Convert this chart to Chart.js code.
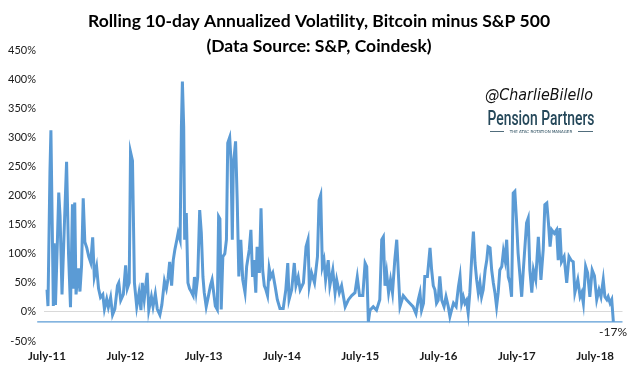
<!DOCTYPE html>
<html>
<head>
<meta charset="utf-8">
<script src="https://cdn.jsdelivr.net/npm/chart.js@4.4.0/dist/chart.umd.min.js"></script>
<style>
    html, body { margin: 0; padding: 0; background: #fff; }
</style>
</head>
<body>
<canvas id="volChart" width="635" height="373"></canvas>
<script>
// x = months after July 2011, y = BTC 10-day vol minus S&P 500 10-day vol (%)
const months = [
    0, 0.15, 0.45, 0.6, 0.8, 0.97, 1.1, 1.3, 1.6, 1.8, 2.0, 2.3, 2.65, 3.0, 3.3, 3.6, 3.9, 4.0, 4.25, 4.45,
    4.8, 5.05, 5.3, 5.55, 5.8, 6.1, 6.4, 6.7, 7.0, 7.25, 7.6, 7.9, 8.2, 8.55, 8.8, 9.15, 9.4, 9.75, 10.05, 10.4,
    10.8, 11.0, 11.3, 11.7, 12.05, 12.3, 12.6, 12.8, 13.1, 13.4, 13.75,
    14.1, 14.4, 14.6, 14.9, 15.35, 15.6, 16.0, 16.25, 16.6, 16.9, 17.3, 17.6, 18.0, 18.3, 18.55, 18.8, 19.1, 19.35, 19.6, 19.9,
    20.1, 20.4, 20.6, 20.75, 20.95, 21.1, 21.35, 21.6, 21.85, 22.1, 22.4, 22.6, 22.85, 23.1, 23.4, 23.65, 23.9, 24.1, 24.4, 24.75,
    25.05, 25.3, 25.55, 25.8, 26.1, 26.3, 26.5, 26.7, 26.95, 27.25, 27.5, 27.7, 28.0, 28.2, 28.4, 28.55, 28.9, 29.15, 29.4, 29.7,
    30.0, 30.35, 30.6, 31.0, 31.25, 31.5, 31.7, 32.0, 32.2, 32.55, 32.8, 33.05, 33.3, 33.55, 33.8, 34.05, 34.3, 34.6, 34.95, 35.3,
    35.7, 36.2, 36.6, 36.9, 37.1, 37.5, 37.9, 38.15, 38.5, 38.8, 39.3, 39.7, 40.0, 40.2, 40.55, 41.0, 41.45, 41.7, 41.95, 42.2,
    42.45, 42.7, 43.1, 43.35, 43.8, 44.15, 44.4, 44.8, 45.15, 45.7, 46.2, 46.7, 47.2, 47.55, 47.9, 48.4, 48.75, 49.0, 49.25, 49.5,
    50.0, 50.5, 51.0, 51.3, 51.55, 51.8, 52.05, 52.35, 52.65, 52.95, 53.3, 53.6, 54.1, 54.6, 55.1, 55.6, 56.1, 56.55, 56.9,
    57.16, 57.4, 57.7, 57.9, 58.3, 58.7, 58.95, 59.2, 59.45, 59.7, 59.95, 60.2, 60.5, 60.85, 61.15, 61.5, 61.75, 62.0, 62.3, 62.7,
    63.05, 63.3, 63.55, 63.8, 64.05, 64.3, 64.55, 64.8, 65.1, 65.35, 65.6, 65.85, 66.1, 66.35, 66.6, 66.85, 67.15, 67.4, 67.6, 67.9,
    68.15, 68.4, 68.65, 68.9, 69.15, 69.4, 69.7, 69.95, 70.2, 70.45, 70.7, 70.95, 71.2, 71.45, 71.7, 71.95, 72.2, 72.75, 73.0, 73.5,
    73.75, 74.0, 74.3, 74.55, 74.9, 75.3, 75.7, 76.05, 76.3, 76.6, 76.85, 77.1, 77.35, 77.75, 78.1, 78.35, 78.6, 78.85, 79.25, 79.65,
    80.0, 80.3, 80.65, 80.9, 81.35, 81.7, 81.95, 82.2, 82.55, 82.85, 83.2, 83.55, 83.9, 84.25, 84.6, 84.9, 85.25, 85.5, 85.8, 86.0,
    86.3, 86.55, 86.8
];
const volSpread = [
    38, 10, 240, 312, 150, 10, 118, 12, 125, 205, 165, 30, 145, 258, 100, 8, 185, 40, 188, 30,
    75, 35, 80, 195, 120, 110, 95, 85, 128, 60, 78, 40, 25, 30, 5, 22, 8, 25, -5, 5,
    45, 50, 20, 30, 80, 40, 50, 275, 260, 50, 9,
    33, 3, 50, 21, 67, 3, 26, 9, 31, 5, -5, 12, 53, 40, 57, 86, 45, 89, 107, 124,
    136, 124, 318, 396, 318, 124, 170, 50, 40, 35, 28, 60, 35, 60, 175, 136, 60, 33, 9, 28,
    45, 55, 33, 10, 4, 164, 160, 4, 95, 100, 124, 290, 300, 260, 124, 250, 293, 192, 61, 124,
    55, 33, 78, 107, 141, 60, 89, 33, 112, 67, 178, 72, 45, 38, 28, 75, 60, 67, 45, 21,
    6, 6, 38, 84, 21, 38, 84, 45, 60, 38, 50, 112, 124, 45, 67, 50, 95, 192, 201, 78,
    89, 55, 89, 45, 72, 33, 55, 33, 45, 9, 21, 28, 33, 60, 28, 28, 84, 78, -17, 3,
    9, 3, 21, 124, 129, 45, 67, 33, 55, 33, 89, 124, 9, 28, 21, 15, 9, -3, 21,
    33, 3, 15, 61, 61, 110, 72, 45, 38, 15, 20, 61, 20, 9, 26, 9, -8, 3, 15, 9,
    43, 61, 15, 26, 15, 20, -2, 33, 95, 138, 84, 55, 33, 50, 26, 38, 72, 89, 112, 110,
    72, 50, 33, 9, 33, 72, 78, 104, 89, 124, 60, 50, 26, 204, 207, 158, 101, 26, 72, 153,
    161, 72, 33, 72, 55, 129, 55, 107, 184, 187, 153, 112, 141, 135, 141, 89, 144, 86, 95, 50,
    95, 89, 86, 33, 55, 26, 33, 15, 78, 67, 26, 72, 62, 21, 38, 26, 55, 26, 21, 26,
    15, 21, -17
];

// latest reading, drawn as a flat reference line
const floorMonths = [-1.5, 88.2];
const floorLevel = -17;

const yearTickMonths = [0, 12, 24, 36, 48, 60, 72, 84];
const yearLabels = ['July-11', 'July-12', 'July-13', 'July-14', 'July-15', 'July-16', 'July-17', 'July-18'];

const titleLines = ['Rolling 10-day Annualized Volatility, Bitcoin minus S&P 500', '(Data Source: S&P, Coindesk)'];

const lineBlue = '#5b9bd5';
const textColor = '#1a1a1a';

// title, watermark and end label
const overlayText = {
    id: 'overlayText',
    afterDraw(chart) {
        const ctx = chart.ctx;
        ctx.save();
        ctx.textBaseline = 'middle';
        ctx.textAlign = 'center';
        ctx.fillStyle = '#000';
        ctx.font = 'bold 17.5px Lato';
        ctx.fillText(titleLines[0], 319, 21);
        ctx.fillText(titleLines[1], 319, 46);

        ctx.fillStyle = '#111';
        ctx.font = 'italic 15px "DejaVu Sans"';
        ctx.fillText('@CharlieBilello', 539, 96, 108);

        ctx.fillStyle = '#25485a';
        ctx.font = '500 21px Roboto';
        ctx.fillText('Pension Partners', 541, 120, 107);
        ctx.font = '4px "DejaVu Sans"';
        ctx.fillText('THE ATAC ROTATION MANAGER', 541, 131.5, 70);
        ctx.strokeStyle = '#25485a';
        ctx.lineWidth = 0.8;
        ctx.beginPath();
        ctx.moveTo(490, 131.5); ctx.lineTo(504, 131.5);
        ctx.moveTo(578, 131.5); ctx.lineTo(593, 131.5);
        ctx.stroke();

        const yEnd = chart.scales.y.getPixelForValue(floorLevel);
        ctx.fillStyle = textColor;
        ctx.textAlign = 'right';
        ctx.font = '12px Lato';
        ctx.fillText(floorLevel + '%', 627, yEnd + 10);
        ctx.restore();
    }
};

new Chart(document.getElementById('volChart'), {
    type: 'line',
    data: {
        datasets: [
            {
                data: months.map((m, i) => ({ x: m, y: volSpread[i] })),
                borderColor: lineBlue,
                borderWidth: 3,
                pointRadius: 0,
                tension: 0,
                order: 1
            },
            {
                data: floorMonths.map(m => ({ x: m, y: floorLevel })),
                borderColor: lineBlue,
                borderWidth: 1.3,
                pointRadius: 0,
                clip: false,
                order: 2
            }
        ]
    },
    options: {
        responsive: false,
        animation: false,
        layout: { padding: { top: 50, right: 12.5, bottom: 4, left: 0 } },
        plugins: {
            legend: { display: false },
            tooltip: { enabled: false },
            title: { display: false }
        },
        scales: {
            x: {
                type: 'linear',
                min: -0.46,
                max: 88.2,
                afterBuildTicks: scale => { scale.ticks = yearTickMonths.map(v => ({ value: v })); },
                afterFit: scale => { scale.height = 28; },
                ticks: {
                    autoSkip: false,
                    maxRotation: 0,
                    padding: 8,
                    color: textColor,
                    font: { family: 'Lato', size: 11.5, weight: 'bold' },
                    callback: (value, index) => yearLabels[index]
                },
                grid: { display: false, drawTicks: false },
                border: { display: false }
            },
            y: {
                min: -50,
                max: 450,
                afterFit: scale => { scale.width = 44; },
                ticks: {
                    stepSize: 50,
                    padding: 8,
                    color: textColor,
                    font: { family: 'Lato', size: 11 },
                    callback: value => value + '%'
                },
                grid: {
                    drawTicks: false,
                    color: ctx => ctx.tick.value === 0 ? '#d9d9d9' : 'rgba(0,0,0,0)'
                },
                border: { display: false }
            }
        }
    },
    plugins: [overlayText]
});
</script>
</body>
</html>
